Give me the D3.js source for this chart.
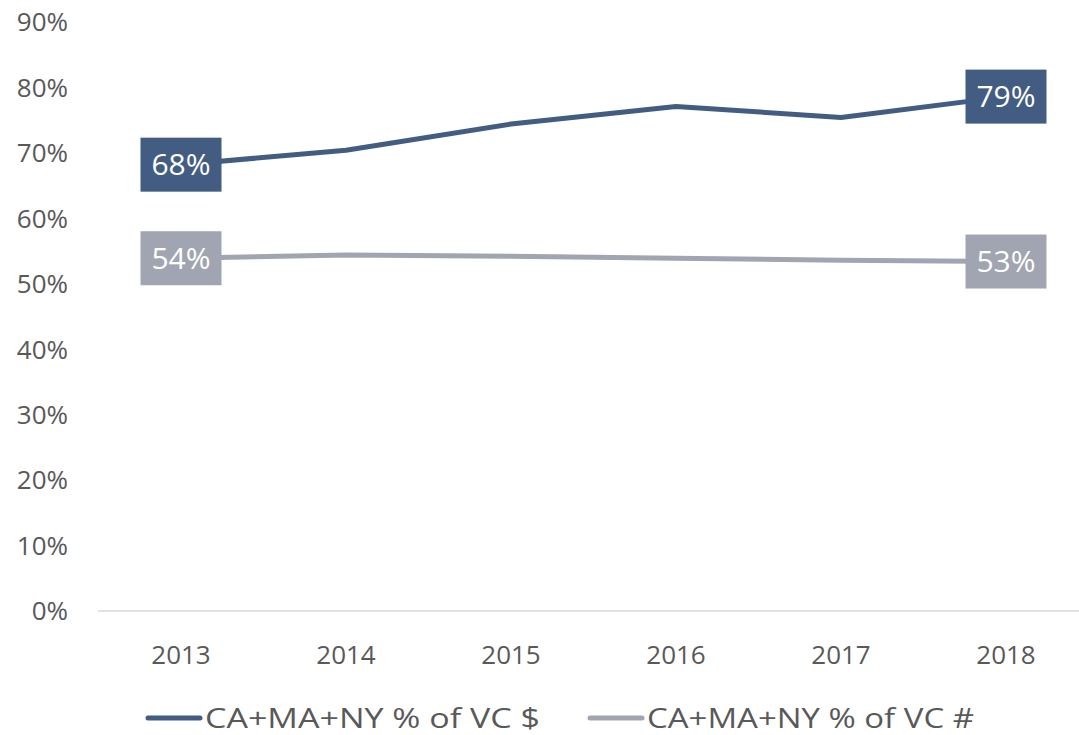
<!DOCTYPE html>
<html>
<head>
<meta charset="utf-8">
<script src="https://cdn.jsdelivr.net/npm/d3@7"></script>
<style>
  body { margin: 0; background: #fff; }
  svg text { font-family: "Open Sans", sans-serif; }
</style>
</head>
<body>
<svg id="chart" width="1079" height="735"></svg>
<script>
  'use strict';

  var years = ['2013', '2014', '2015', '2016', '2017', '2018'];
  var vcDollars = [68.2, 70.4, 74.4, 77.1, 75.4, 78.6];
  var vcCount = [53.9, 54.4, 54.2, 53.9, 53.6, 53.4];
  var yTicks = [0, 10, 20, 30, 40, 50, 60, 70, 80, 90];
  var seriesNames = ['CA+MA+NY % of VC $', 'CA+MA+NY % of VC #'];
  var seriesColors = ['#435d82', '#a0a5b1'];
  var endLabels = [['68%', '79%'], ['54%', '53%']];

  var svg = d3.select('#chart');

  var x = d3.scalePoint()
    .domain(years)
    .range([181, 1006]);

  var y = d3.scaleLinear()
    .domain([0, 90])
    .range([611, 22]);

  // baseline
  svg.append('line')
    .attr('x1', 98).attr('x2', 1086)
    .attr('y1', y(0)).attr('y2', y(0))
    .attr('stroke', '#d9d9d9')
    .attr('stroke-width', 1.5);

  // y axis labels
  svg.append('g')
    .selectAll('text')
    .data(yTicks)
    .enter()
    .append('text')
      .attr('x', 68)
      .attr('y', function (d) { return y(d); })
      .attr('dy', '0.36em')
      .attr('text-anchor', 'end')
      .attr('font-size', 26)
      .attr('fill', '#595959')
      .text(function (d) { return d + '%'; });

  // x axis labels
  svg.append('g')
    .selectAll('text')
    .data(years)
    .enter()
    .append('text')
      .attr('x', function (d) { return x(d); })
      .attr('y', 655)
      .attr('dy', '0.36em')
      .attr('text-anchor', 'middle')
      .attr('font-size', 26)
      .attr('fill', '#595959')
      .text(function (d) { return d; });

  var line = d3.line()
    .x(function (d, i) { return x(years[i]); })
    .y(function (d) { return y(d); });

  [vcDollars, vcCount].forEach(function (values, s) {
    svg.append('path')
      .datum(values)
      .attr('d', line)
      .attr('fill', 'none')
      .attr('stroke', seriesColors[s])
      .attr('stroke-width', 5)
      .attr('stroke-linejoin', 'round');

    // first and last point labels
    [0, values.length - 1].forEach(function (idx, k) {
      var cx = x(years[idx]), cy = y(values[idx]);
      svg.append('rect')
        .attr('x', cx - 40.5)
        .attr('y', cy - 27)
        .attr('width', 81)
        .attr('height', 54)
        .attr('fill', seriesColors[s]);
      svg.append('text')
        .attr('x', cx)
        .attr('y', cy)
        .attr('dy', '0.36em')
        .attr('text-anchor', 'middle')
        .attr('font-size', 30)
        .attr('fill', '#fff')
        .text(endLabels[s][k]);
    });
  });

  // legend
  var legendX = [148, 590];
  var legendW = [335, 327];
  seriesNames.forEach(function (name, s) {
    svg.append('line')
      .attr('x1', legendX[s]).attr('x2', legendX[s] + 52)
      .attr('y1', 718).attr('y2', 718)
      .attr('stroke', seriesColors[s])
      .attr('stroke-width', 5)
      .attr('stroke-linecap', 'round');
    svg.append('text')
      .attr('x', legendX[s] + 57)
      .attr('y', 718)
      .attr('dy', '0.36em')
      .attr('font-size', 28)
      .attr('fill', '#595959')
      .attr('textLength', legendW[s])
      .attr('lengthAdjust', 'spacingAndGlyphs')
      .text(name);
  });
</script>
</body>
</html>
